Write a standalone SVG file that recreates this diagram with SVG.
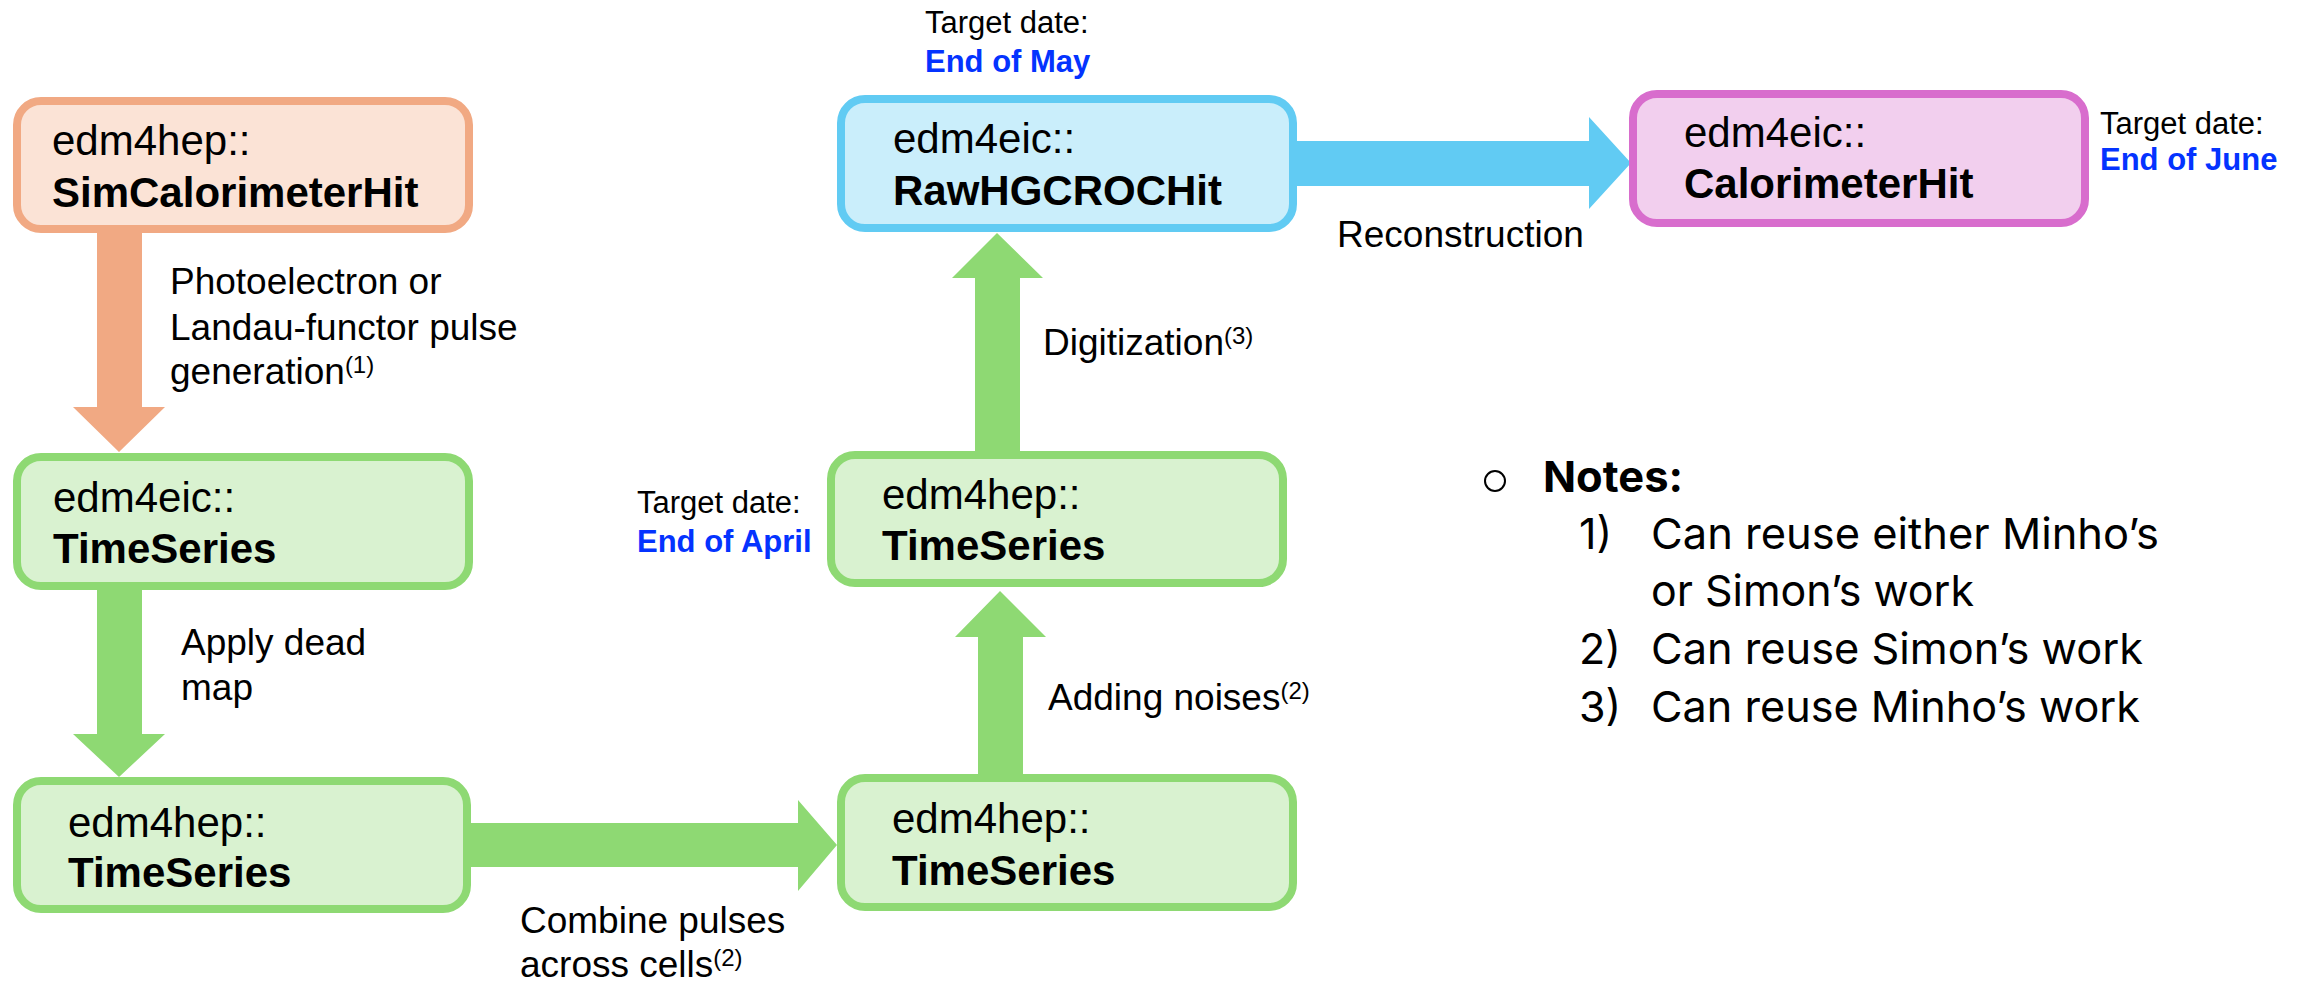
<svg xmlns="http://www.w3.org/2000/svg" width="2308" height="983" viewBox="0 0 2308 983">
<style>
.bg{fill:#FFFFFF}
.box{stroke-width:8}
.orange{fill:#FBE3D6;stroke:#F1A983}
.green{fill:#D9F2D0;stroke:#8ED973}
.blue{fill:#CAEEFB;stroke:#61CBF3}
.pink{fill:#F2CFEE;stroke:#D86DCD}
.ns{font-family:"Liberation Sans",Arial,sans-serif;font-size:42px;fill:#000}
.cls{font-family:"Liberation Sans",Arial,sans-serif;font-size:42px;font-weight:bold;fill:#000}
.lbl{font-family:"Liberation Sans",Arial,sans-serif;font-size:37px;fill:#000}
.sup{font-size:24px}
.td{font-family:"Liberation Sans",Arial,sans-serif;font-size:31px;fill:#000}
.tdv{font-family:"Liberation Sans",Arial,sans-serif;font-size:31px;font-weight:bold;fill:#0433FF}
.note{font-family:Inter,"Noto Sans",sans-serif;font-size:43px;fill:#000}
.noteb{font-family:Inter,"Noto Sans",sans-serif;font-size:43px;font-weight:bold;fill:#000}
</style>
<rect class="bg" x="0" y="0" width="2308" height="983"/>

<g id="connectors">
  <polygon id="c-sim-ts" fill="#F1A983" points="97,233 142,233 142,407 165,407 119,452 73,407 97,407"/>
  <polygon id="c-ts-ts2" fill="#8ED973" points="97,590 142,590 142,734 165,734 119,777 73,734 97,734"/>
  <polygon id="c-ts2-ts3" fill="#8ED973" points="471,823 798,823 798,800 837,845 798,891 798,867 471,867"/>
  <polygon id="c-ts3-ts4" fill="#8ED973" points="978,774 1023,774 1023,637 1046,637 1000,591 955,637 978,637"/>
  <polygon id="c-ts4-raw" fill="#8ED973" points="975,451 1020,451 1020,278 1043,278 997,233 952,278 975,278"/>
  <polygon id="c-raw-calo" fill="#61CBF3" points="1297,141 1589,141 1589,117 1631,163 1589,209 1589,186 1297,186"/>
  <text class="lbl" x="170" y="294">Photoelectron or</text>
  <text class="lbl" x="170" y="340">Landau-functor pulse</text>
  <text class="lbl" x="170" y="384">generation<tspan class="sup" dy="-11">(1)</tspan></text>
  <text class="lbl" x="181" y="655">Apply dead</text>
  <text class="lbl" x="181" y="700">map</text>
  <text class="lbl" x="520" y="933">Combine pulses</text>
  <text class="lbl" x="520" y="977">across cells<tspan class="sup" dy="-11">(2)</tspan></text>
  <text class="lbl" x="1048" y="710">Adding noises<tspan class="sup" dy="-11">(2)</tspan></text>
  <text class="lbl" x="1043" y="355">Digitization<tspan class="sup" dy="-11">(3)</tspan></text>
  <text class="lbl" x="1337" y="247">Reconstruction</text>
</g>

<g id="node-sim">
  <rect class="box orange" x="17" y="101" width="452" height="128" rx="24"/>
  <text class="ns" x="52" y="155">edm4hep::</text>
  <text class="cls" x="52" y="207">SimCalorimeterHit</text>
</g>

<g id="node-ts-eic">
  <rect class="box green" x="17" y="457" width="452" height="129" rx="24"/>
  <text class="ns" x="53" y="512">edm4eic::</text>
  <text class="cls" x="53" y="563">TimeSeries</text>
</g>

<g id="node-ts-hep1">
  <rect class="box green" x="17" y="781" width="450" height="128" rx="24"/>
  <text class="ns" x="68" y="837">edm4hep::</text>
  <text class="cls" x="68" y="887">TimeSeries</text>
</g>

<g id="node-ts-hep2">
  <rect class="box green" x="841" y="778" width="452" height="129" rx="24"/>
  <text class="ns" x="892" y="833">edm4hep::</text>
  <text class="cls" x="892" y="885">TimeSeries</text>
</g>

<g id="node-ts-hep3">
  <rect class="box green" x="831" y="455" width="452" height="128" rx="24"/>
  <text class="ns" x="882" y="509">edm4hep::</text>
  <text class="cls" x="882" y="560">TimeSeries</text>
  <text class="td" x="637" y="513">Target date:</text>
  <text class="tdv" x="637" y="552">End of April</text>
</g>

<g id="node-raw">
  <rect class="box blue" x="841" y="99" width="452" height="129" rx="24"/>
  <text class="ns" x="893" y="153">edm4eic::</text>
  <text class="cls" x="893" y="205">RawHGCROCHit</text>
  <text class="td" x="925" y="33">Target date:</text>
  <text class="tdv" x="925" y="72">End of May</text>
</g>

<g id="node-calo">
  <rect class="box pink" x="1633" y="94" width="452" height="129" rx="24"/>
  <text class="ns" x="1684" y="147">edm4eic::</text>
  <text class="cls" x="1684" y="198">CalorimeterHit</text>
  <text class="td" x="2100" y="134">Target date:</text>
  <text class="tdv" x="2100" y="170">End of June</text>
</g>

<g id="notes">
  <circle cx="1495" cy="481" r="10" fill="none" stroke="#000" stroke-width="2"/>
  <text class="noteb" x="1543" y="492" textLength="140" lengthAdjust="spacingAndGlyphs">Notes:</text>
  <text class="note" x="1579" y="549">1)</text>
  <text class="note" x="1651" y="549" textLength="508" lengthAdjust="spacingAndGlyphs">Can reuse either Minho’s</text>
  <text class="note" x="1651" y="606" textLength="323" lengthAdjust="spacingAndGlyphs">or Simon’s work</text>
  <text class="note" x="1579" y="664">2)</text>
  <text class="note" x="1651" y="664" textLength="492" lengthAdjust="spacingAndGlyphs">Can reuse Simon’s work</text>
  <text class="note" x="1579" y="722">3)</text>
  <text class="note" x="1651" y="722" textLength="489" lengthAdjust="spacingAndGlyphs">Can reuse Minho’s work</text>
</g>
</svg>
